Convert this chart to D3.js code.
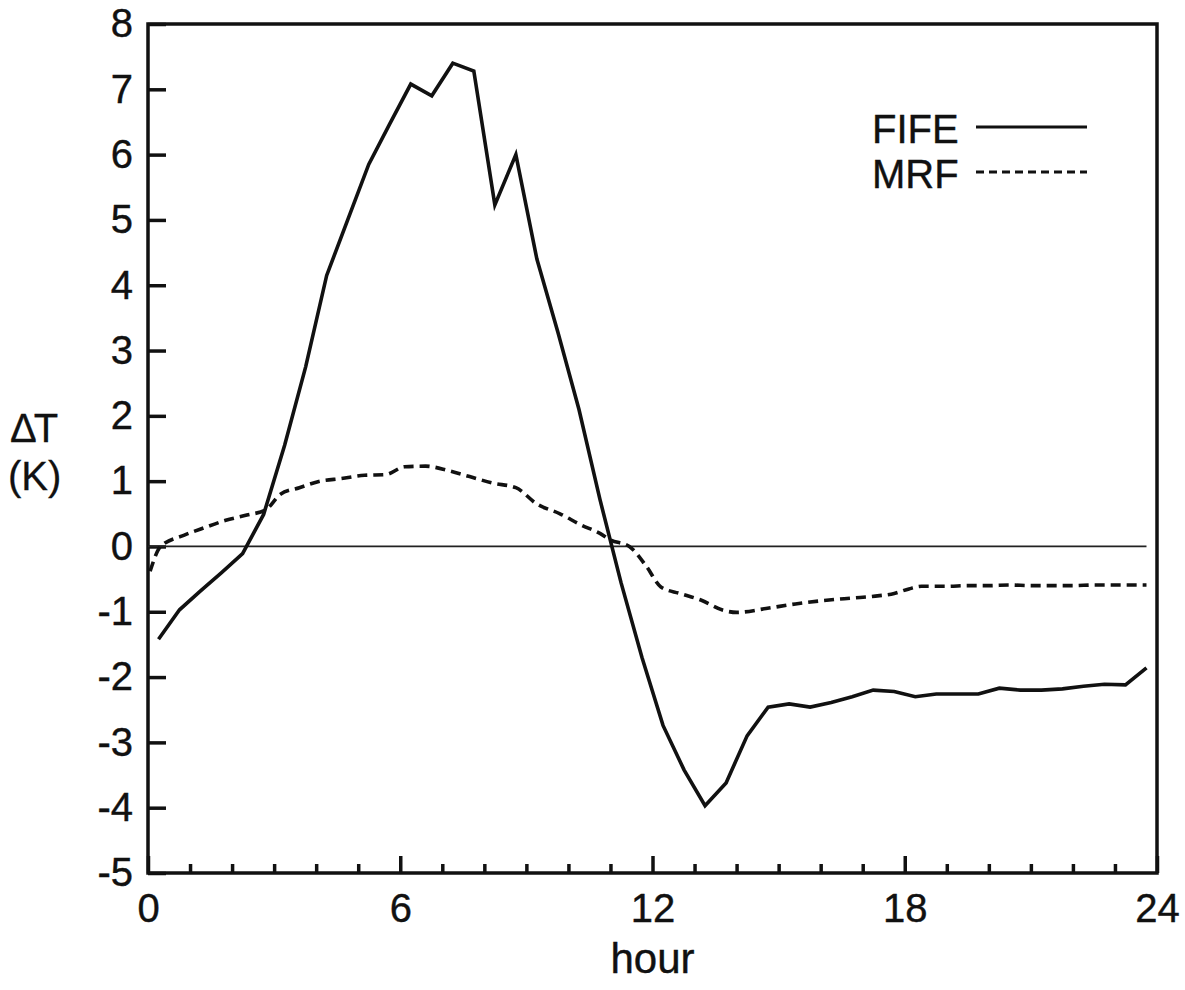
<!DOCTYPE html>
<html>
<head>
<meta charset="utf-8">
<script src="https://cdn.jsdelivr.net/npm/d3@7"></script>
<style>
  html, body { margin: 0; padding: 0; background: #fff; }
  svg text { font-family: Arial, "Liberation Sans", Helvetica, sans-serif; fill: #111; }
</style>
</head>
<body>
<svg id="chart" width="1185" height="990"></svg>
<script>
// ---- data ----
const fifeHours = [0.25,0.75,1.25,1.75,2.25,2.75,3.25,3.75,4.25,4.75,5.25,5.75,6.25,6.75,7.25,7.75,
  8.25,8.75,9.25,9.75,10.25,10.75,11.25,11.75,12.25,12.75,13.25,13.75,14.25,14.75,15.25,15.75,
  16.25,16.75,17.25,17.75,18.25,18.75,19.25,19.75,20.25,20.75,21.25,21.75,22.25,22.75,23.25,23.75];
const fifeValues = [-1.42,-0.97,-0.68,-0.40,-0.11,0.49,1.55,2.75,4.15,5.00,5.85,6.47,7.08,6.90,7.40,7.28,
  5.23,6.00,4.40,3.28,2.10,0.72,-0.55,-1.70,-2.74,-3.42,-3.97,-3.62,-2.90,-2.46,-2.41,-2.46,
  -2.39,-2.30,-2.20,-2.22,-2.30,-2.26,-2.26,-2.26,-2.17,-2.20,-2.20,-2.18,-2.14,-2.11,-2.12,-1.86];

const mrfHours = [0.05,0.3,0.85,1.35,1.85,2.35,2.8,3.15,3.6,4.1,4.6,5.15,5.65,6.1,6.6,7.15,7.65,8.2,8.75,
  9.25,9.8,10.3,10.75,11.0,11.45,11.85,12.2,12.65,13.15,13.7,14.0,14.7,15.4,16.2,16.75,17.3,17.75,
  18.1,18.4,19.0,19.5,20.0,20.5,21.0,21.5,22.0,22.5,23.0,23.75];
const mrfValues = [-0.38,0.0,0.17,0.29,0.40,0.48,0.56,0.80,0.90,1.00,1.04,1.09,1.10,1.22,1.23,1.16,1.07,0.97,0.90,
  0.65,0.50,0.33,0.20,0.10,0.0,-0.30,-0.62,-0.72,-0.82,-0.98,-1.01,-0.95,-0.88,-0.82,-0.79,-0.76,-0.72,
  -0.65,-0.61,-0.61,-0.60,-0.60,-0.59,-0.60,-0.60,-0.60,-0.59,-0.59,-0.59];

const zeroHours = [0, 23.75];
const zeroValues = [0, 0];

const xMajorTicks = [0, 6, 12, 18, 24];
const xMinorTicks = [1,2,3,4,5,7,8,9,10,11,13,14,15,16,17,19,20,21,22,23];
const yTicks = [-5,-4,-3,-2,-1,0,1,2,3,4,5,6,7,8];
const seriesNames = ["FIFE", "MRF"];

// ---- layout ----
const L = 148, R = 1157, T = 24, B = 873;
const svg = d3.select("#chart");
const x = d3.scaleLinear().domain([0, 24]).range([L, R]);
const y = d3.scaleLinear().domain([-5, 8]).range([B, T]);
const FS = 40;
const INK = "#111";
const fmt = d => String(d);

// axes
const yAxis = d3.axisLeft(y).tickValues(yTicks).tickFormat(fmt)
  .tickSizeInner(-18).tickSizeOuter(0).tickPadding(15);
const gy = svg.append("g").attr("transform", `translate(${L},0)`).call(yAxis);
gy.select(".domain").remove();
gy.selectAll(".tick line").attr("stroke", INK).attr("stroke-width", 3.5);
gy.selectAll(".tick text").attr("font-size", FS).style("font-family", "Arial, 'Liberation Sans', sans-serif")
  .attr("fill", INK).attr("stroke", INK).attr("stroke-width", 0.4);

const xMaj = d3.axisBottom(x).tickValues(xMajorTicks).tickFormat(fmt)
  .tickSizeInner(-17).tickSizeOuter(0).tickPadding(21);
const gx = svg.append("g").attr("transform", `translate(0,${B})`).call(xMaj);
gx.select(".domain").remove();
gx.selectAll(".tick line").attr("stroke", INK).attr("stroke-width", 3.5);
gx.selectAll(".tick text").attr("font-size", FS).style("font-family", "Arial, 'Liberation Sans', sans-serif")
  .attr("fill", INK).attr("stroke", INK).attr("stroke-width", 0.4);

const xMin = d3.axisBottom(x).tickValues(xMinorTicks).tickFormat("")
  .tickSizeInner(-9).tickSizeOuter(0);
const gxm = svg.append("g").attr("transform", `translate(0,${B})`).call(xMin);
gxm.select(".domain").remove();
gxm.selectAll(".tick line").attr("stroke", INK).attr("stroke-width", 3.5);

// frame
svg.append("rect").attr("x", L).attr("y", T).attr("width", R - L).attr("height", B - T)
  .attr("fill", "none").attr("stroke", INK).attr("stroke-width", 3.5);

// zero line
const zline = d3.line().x((d, i) => x(zeroHours[i])).y(d => y(d));
svg.append("path").attr("d", zline(zeroValues)).attr("fill", "none")
  .attr("stroke", "#222").attr("stroke-width", 1.8);

// series
const fifeLine = d3.line().x((d, i) => x(fifeHours[i])).y(d => y(d));
svg.append("path").attr("d", fifeLine(fifeValues)).attr("fill", "none")
  .attr("stroke", INK).attr("stroke-width", 3.6).attr("stroke-linejoin", "miter");

const mrfLine = d3.line().x((d, i) => x(mrfHours[i])).y(d => y(d)).curve(d3.curveMonotoneX);
svg.append("path").attr("d", mrfLine(mrfValues)).attr("fill", "none")
  .attr("stroke", INK).attr("stroke-width", 3.6).attr("stroke-dasharray", "10,6");

// legend
const legend = svg.append("g");
const legY = [143, 188];
seriesNames.forEach((name, i) => {
  legend.append("text").attr("x", 872).attr("y", legY[i]).attr("font-size", FS)
    .attr("stroke", INK).attr("stroke-width", 0.4).text(name);
  legend.append("line").attr("x1", 976).attr("x2", 1087)
    .attr("y1", legY[i] - 16).attr("y2", legY[i] - 16)
    .attr("stroke", INK).attr("stroke-width", i === 0 ? 3.2 : 3)
    .attr("stroke-dasharray", i === 0 ? null : "8,5");
});

// axis titles
svg.append("text").attr("x", 10).attr("y", 442).attr("font-size", FS)
  .attr("stroke", INK).attr("stroke-width", 0.3).attr("letter-spacing", -3).text("\u0394T");
svg.append("text").attr("x", 8).attr("y", 490).attr("font-size", FS)
  .attr("stroke", INK).attr("stroke-width", 0.3).text("(K)");
svg.append("text").attr("x", x(12)).attr("y", 973).attr("text-anchor", "middle")
  .attr("font-size", FS + 2).attr("stroke", INK).attr("stroke-width", 0.4).text("hour");
</script>
</body>
</html>
